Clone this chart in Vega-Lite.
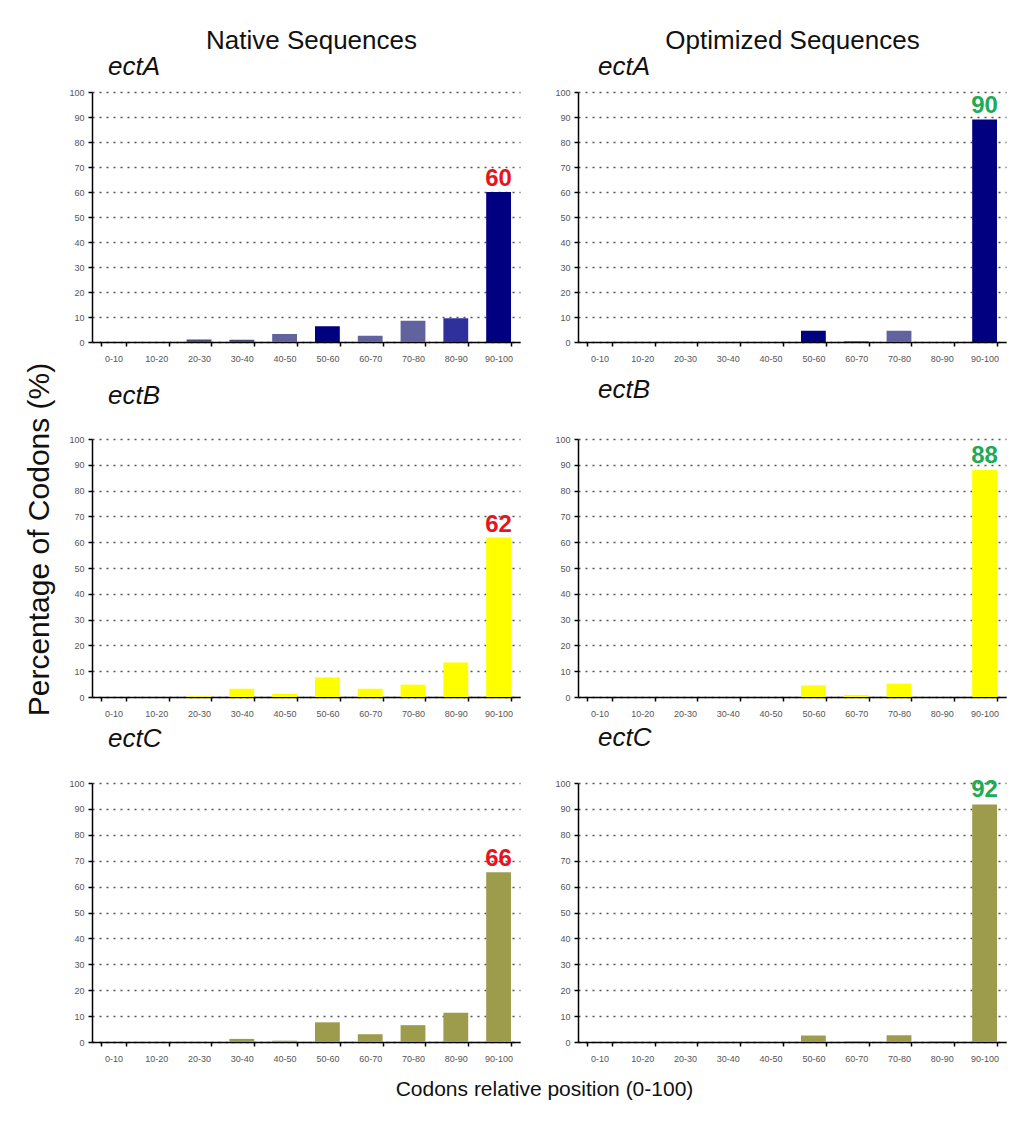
{
  "$schema": "https://vega.github.io/schema/vega-lite/v6.json",
  "background": "white",
  "padding": {"left": 24, "top": 28, "right": 5, "bottom": 5},
  "datasets": {
    "codons": [
      {"gene": "ectA", "set": "Native", "bin": "0-10", "pct": 0, "shade": "grey", "label": null},
      {"gene": "ectA", "set": "Native", "bin": "10-20", "pct": 0, "shade": "grey", "label": null},
      {"gene": "ectA", "set": "Native", "bin": "20-30", "pct": 1, "shade": "grey", "label": null},
      {"gene": "ectA", "set": "Native", "bin": "30-40", "pct": 0.9, "shade": "grey", "label": null},
      {"gene": "ectA", "set": "Native", "bin": "40-50", "pct": 3.2, "shade": "slate", "label": null},
      {"gene": "ectA", "set": "Native", "bin": "50-60", "pct": 6.3, "shade": "navy", "label": null},
      {"gene": "ectA", "set": "Native", "bin": "60-70", "pct": 2.5, "shade": "slate", "label": null},
      {"gene": "ectA", "set": "Native", "bin": "70-80", "pct": 8.5, "shade": "slate", "label": null},
      {"gene": "ectA", "set": "Native", "bin": "80-90", "pct": 9.5, "shade": "blue", "label": null},
      {"gene": "ectA", "set": "Native", "bin": "90-100", "pct": 60, "shade": "navy", "label": "60"},
      {"gene": "ectA", "set": "Optimized", "bin": "0-10", "pct": 0, "shade": "grey", "label": null},
      {"gene": "ectA", "set": "Optimized", "bin": "10-20", "pct": 0, "shade": "grey", "label": null},
      {"gene": "ectA", "set": "Optimized", "bin": "20-30", "pct": 0, "shade": "grey", "label": null},
      {"gene": "ectA", "set": "Optimized", "bin": "30-40", "pct": 0, "shade": "grey", "label": null},
      {"gene": "ectA", "set": "Optimized", "bin": "40-50", "pct": 0, "shade": "grey", "label": null},
      {"gene": "ectA", "set": "Optimized", "bin": "50-60", "pct": 4.5, "shade": "navy", "label": null},
      {"gene": "ectA", "set": "Optimized", "bin": "60-70", "pct": 0.3, "shade": "grey", "label": null},
      {"gene": "ectA", "set": "Optimized", "bin": "70-80", "pct": 4.5, "shade": "slate", "label": null},
      {"gene": "ectA", "set": "Optimized", "bin": "80-90", "pct": 0, "shade": "grey", "label": null},
      {"gene": "ectA", "set": "Optimized", "bin": "90-100", "pct": 89, "shade": "navy", "label": "90"},
      {"gene": "ectB", "set": "Native", "bin": "0-10", "pct": 0, "shade": "yellow", "label": null},
      {"gene": "ectB", "set": "Native", "bin": "10-20", "pct": 0, "shade": "yellow", "label": null},
      {"gene": "ectB", "set": "Native", "bin": "20-30", "pct": 0.3, "shade": "yellow", "label": null},
      {"gene": "ectB", "set": "Native", "bin": "30-40", "pct": 3.2, "shade": "yellow", "label": null},
      {"gene": "ectB", "set": "Native", "bin": "40-50", "pct": 1.3, "shade": "yellow", "label": null},
      {"gene": "ectB", "set": "Native", "bin": "50-60", "pct": 7.6, "shade": "yellow", "label": null},
      {"gene": "ectB", "set": "Native", "bin": "60-70", "pct": 3.2, "shade": "yellow", "label": null},
      {"gene": "ectB", "set": "Native", "bin": "70-80", "pct": 4.8, "shade": "yellow", "label": null},
      {"gene": "ectB", "set": "Native", "bin": "80-90", "pct": 13.4, "shade": "yellow", "label": null},
      {"gene": "ectB", "set": "Native", "bin": "90-100", "pct": 61.8, "shade": "yellow", "label": "62"},
      {"gene": "ectB", "set": "Optimized", "bin": "0-10", "pct": 0, "shade": "yellow", "label": null},
      {"gene": "ectB", "set": "Optimized", "bin": "10-20", "pct": 0, "shade": "yellow", "label": null},
      {"gene": "ectB", "set": "Optimized", "bin": "20-30", "pct": 0, "shade": "yellow", "label": null},
      {"gene": "ectB", "set": "Optimized", "bin": "30-40", "pct": 0, "shade": "yellow", "label": null},
      {"gene": "ectB", "set": "Optimized", "bin": "40-50", "pct": 0, "shade": "yellow", "label": null},
      {"gene": "ectB", "set": "Optimized", "bin": "50-60", "pct": 4.5, "shade": "yellow", "label": null},
      {"gene": "ectB", "set": "Optimized", "bin": "60-70", "pct": 0.8, "shade": "yellow", "label": null},
      {"gene": "ectB", "set": "Optimized", "bin": "70-80", "pct": 5.2, "shade": "yellow", "label": null},
      {"gene": "ectB", "set": "Optimized", "bin": "80-90", "pct": 0, "shade": "yellow", "label": null},
      {"gene": "ectB", "set": "Optimized", "bin": "90-100", "pct": 88, "shade": "yellow", "label": "88"},
      {"gene": "ectC", "set": "Native", "bin": "0-10", "pct": 0, "shade": "olive", "label": null},
      {"gene": "ectC", "set": "Native", "bin": "10-20", "pct": 0, "shade": "olive", "label": null},
      {"gene": "ectC", "set": "Native", "bin": "20-30", "pct": 0, "shade": "olive", "label": null},
      {"gene": "ectC", "set": "Native", "bin": "30-40", "pct": 1.2, "shade": "olive", "label": null},
      {"gene": "ectC", "set": "Native", "bin": "40-50", "pct": 0.5, "shade": "olive", "label": null},
      {"gene": "ectC", "set": "Native", "bin": "50-60", "pct": 7.6, "shade": "olive", "label": null},
      {"gene": "ectC", "set": "Native", "bin": "60-70", "pct": 3, "shade": "olive", "label": null},
      {"gene": "ectC", "set": "Native", "bin": "70-80", "pct": 6.5, "shade": "olive", "label": null},
      {"gene": "ectC", "set": "Native", "bin": "80-90", "pct": 11.3, "shade": "olive", "label": null},
      {"gene": "ectC", "set": "Native", "bin": "90-100", "pct": 65.5, "shade": "olive", "label": "66"},
      {"gene": "ectC", "set": "Optimized", "bin": "0-10", "pct": 0, "shade": "olive", "label": null},
      {"gene": "ectC", "set": "Optimized", "bin": "10-20", "pct": 0, "shade": "olive", "label": null},
      {"gene": "ectC", "set": "Optimized", "bin": "20-30", "pct": 0, "shade": "olive", "label": null},
      {"gene": "ectC", "set": "Optimized", "bin": "30-40", "pct": 0, "shade": "olive", "label": null},
      {"gene": "ectC", "set": "Optimized", "bin": "40-50", "pct": 0, "shade": "olive", "label": null},
      {"gene": "ectC", "set": "Optimized", "bin": "50-60", "pct": 2.5, "shade": "olive", "label": null},
      {"gene": "ectC", "set": "Optimized", "bin": "60-70", "pct": 0.3, "shade": "olive", "label": null},
      {"gene": "ectC", "set": "Optimized", "bin": "70-80", "pct": 2.6, "shade": "olive", "label": null},
      {"gene": "ectC", "set": "Optimized", "bin": "80-90", "pct": 0.3, "shade": "olive", "label": null},
      {"gene": "ectC", "set": "Optimized", "bin": "90-100", "pct": 91.7, "shade": "olive", "label": "92"}
    ]
  },
  "data": {"name": "codons"},
  "title": {"text": "Codons relative position (0-100)", "orient": "bottom", "anchor": "middle", "dx": 29, "offset": 16, "fontSize": 21, "fontWeight": "normal", "font": "Liberation Sans", "color": "#111"},
  "spacing": 34,
  "hconcat": [
    {
      "title": {"text": "Native Sequences", "anchor": "middle", "dx": 39, "fontSize": 26, "fontWeight": "normal", "font": "Liberation Sans", "color": "#111", "offset": 0},
      "spacing": 97,
      "bounds": "flush",
      "vconcat": [
        {
          "width": 428, "height": 250,
          "title": {"text": "ectA", "anchor": "start", "frame": "group", "dx": 16, "offset": 8, "fontSize": 26, "fontStyle": "italic", "fontWeight": "normal", "font": "Liberation Sans", "color": "#111"},
          "transform": [{"filter": "datum.gene == 'ectA' && datum.set == 'Native'"}],
          "encoding": {
            "x": {"field": "bin", "type": "ordinal", "sort": ["0-10","10-20","20-30","30-40","40-50","50-60","60-70","70-80","80-90","90-100"], "scale": {"paddingInner": 0.42, "paddingOuter": 0.21}, "title": null},
            "y": {"field": "pct", "type": "quantitative", "scale": {"domain": [0, 100], "nice": false}, "axis": {"values": [0,10,20,30,40,50,60,70,80,90,100]}, "title": null}
          },
          "layer": [
            {"mark": {"type": "bar"},
             "encoding": {"color": {"field": "shade", "type": "nominal", "scale": {"domain": ["navy","blue","slate","grey","yellow","olive"], "range": ["#000080","#30309c","#62629e","#4a4a70","#ffff00","#9c9c4c"]}, "legend": null}}},
            {"mark": {"type": "text", "color": "#e8141c", "font": "Liberation Sans", "fontSize": 24, "fontWeight": "bold", "baseline": "bottom", "dy": -1},
             "transform": [{"filter": "datum.label != null"}],
             "encoding": {"text": {"field": "label"}}}
          ]
        },
        {
          "spacing": 86,
          "bounds": "flush",
          "vconcat": [
            {
              "width": 428, "height": 258,
              "title": {"text": "ectB", "anchor": "start", "frame": "group", "dx": 16, "offset": -47, "fontSize": 26, "fontStyle": "italic", "fontWeight": "normal", "font": "Liberation Sans", "color": "#111"},
              "transform": [{"filter": "datum.gene == 'ectB' && datum.set == 'Native'"}],
              "encoding": {
                "x": {"field": "bin", "type": "ordinal", "sort": ["0-10","10-20","20-30","30-40","40-50","50-60","60-70","70-80","80-90","90-100"], "scale": {"paddingInner": 0.42, "paddingOuter": 0.21}, "title": null},
                "y": {"field": "pct", "type": "quantitative", "scale": {"domain": [0, 100], "nice": false}, "axis": {"values": [0,10,20,30,40,50,60,70,80,90,100], "titleFont": "Liberation Sans", "titleFontSize": 30, "titlePadding": 14, "titleY": 100}, "title": "Percentage of Codons (%)"}
              },
              "layer": [
                {"mark": {"type": "bar"},
                 "encoding": {"color": {"field": "shade", "type": "nominal", "scale": {"domain": ["navy","blue","slate","grey","yellow","olive"], "range": ["#000080","#30309c","#62629e","#4a4a70","#ffff00","#9c9c4c"]}, "legend": null}}},
                {"mark": {"type": "text", "color": "#e8141c", "font": "Liberation Sans", "fontSize": 24, "fontWeight": "bold", "baseline": "bottom", "dy": -1},
                 "transform": [{"filter": "datum.label != null"}],
                 "encoding": {"text": {"field": "label"}}}
              ]
            },
            {
              "width": 428, "height": 259,
              "title": {"text": "ectC", "anchor": "start", "frame": "group", "dx": 16, "offset": 27, "fontSize": 26, "fontStyle": "italic", "fontWeight": "normal", "font": "Liberation Sans", "color": "#111"},
              "transform": [{"filter": "datum.gene == 'ectC' && datum.set == 'Native'"}],
              "encoding": {
                "x": {"field": "bin", "type": "ordinal", "sort": ["0-10","10-20","20-30","30-40","40-50","50-60","60-70","70-80","80-90","90-100"], "scale": {"paddingInner": 0.42, "paddingOuter": 0.21}, "title": null},
                "y": {"field": "pct", "type": "quantitative", "scale": {"domain": [0, 100], "nice": false}, "axis": {"values": [0,10,20,30,40,50,60,70,80,90,100]}, "title": null}
              },
              "layer": [
                {"mark": {"type": "bar"},
                 "encoding": {"color": {"field": "shade", "type": "nominal", "scale": {"domain": ["navy","blue","slate","grey","yellow","olive"], "range": ["#000080","#30309c","#62629e","#4a4a70","#ffff00","#9c9c4c"]}, "legend": null}}},
                {"mark": {"type": "text", "color": "#e8141c", "font": "Liberation Sans", "fontSize": 24, "fontWeight": "bold", "baseline": "bottom", "dy": -1},
                 "transform": [{"filter": "datum.label != null"}],
                 "encoding": {"text": {"field": "label"}}}
              ]
            }
          ]
        }
      ]
    },
    {
      "title": {"text": "Optimized Sequences", "anchor": "middle", "dx": 12, "fontSize": 26, "fontWeight": "normal", "font": "Liberation Sans", "color": "#111", "offset": 0},
      "spacing": 97,
      "bounds": "flush",
      "vconcat": [
        {
          "width": 428, "height": 250,
          "title": {"text": "ectA", "anchor": "start", "frame": "group", "dx": 20, "offset": 8, "fontSize": 26, "fontStyle": "italic", "fontWeight": "normal", "font": "Liberation Sans", "color": "#111"},
          "transform": [{"filter": "datum.gene == 'ectA' && datum.set == 'Optimized'"}],
          "encoding": {
            "x": {"field": "bin", "type": "ordinal", "sort": ["0-10","10-20","20-30","30-40","40-50","50-60","60-70","70-80","80-90","90-100"], "scale": {"paddingInner": 0.42, "paddingOuter": 0.21}, "title": null},
            "y": {"field": "pct", "type": "quantitative", "scale": {"domain": [0, 100], "nice": false}, "axis": {"values": [0,10,20,30,40,50,60,70,80,90,100]}, "title": null}
          },
          "layer": [
            {"mark": {"type": "bar"},
             "encoding": {"color": {"field": "shade", "type": "nominal", "scale": {"domain": ["navy","blue","slate","grey","yellow","olive"], "range": ["#000080","#30309c","#62629e","#4a4a70","#ffff00","#9c9c4c"]}, "legend": null}}},
            {"mark": {"type": "text", "color": "#1faa55", "font": "Liberation Sans", "fontSize": 24, "fontWeight": "bold", "baseline": "bottom", "dy": -2},
             "transform": [{"filter": "datum.label != null"}],
             "encoding": {"text": {"field": "label"}}}
          ]
        },
        {
          "spacing": 86,
          "bounds": "flush",
          "vconcat": [
            {
              "width": 428, "height": 258,
              "title": {"text": "ectB", "anchor": "start", "frame": "group", "dx": 20, "offset": 32, "fontSize": 26, "fontStyle": "italic", "fontWeight": "normal", "font": "Liberation Sans", "color": "#111"},
              "transform": [{"filter": "datum.gene == 'ectB' && datum.set == 'Optimized'"}],
              "encoding": {
                "x": {"field": "bin", "type": "ordinal", "sort": ["0-10","10-20","20-30","30-40","40-50","50-60","60-70","70-80","80-90","90-100"], "scale": {"paddingInner": 0.42, "paddingOuter": 0.21}, "title": null},
                "y": {"field": "pct", "type": "quantitative", "scale": {"domain": [0, 100], "nice": false}, "axis": {"values": [0,10,20,30,40,50,60,70,80,90,100]}, "title": null}
              },
              "layer": [
                {"mark": {"type": "bar"},
                 "encoding": {"color": {"field": "shade", "type": "nominal", "scale": {"domain": ["navy","blue","slate","grey","yellow","olive"], "range": ["#000080","#30309c","#62629e","#4a4a70","#ffff00","#9c9c4c"]}, "legend": null}}},
                {"mark": {"type": "text", "color": "#1faa55", "font": "Liberation Sans", "fontSize": 24, "fontWeight": "bold", "baseline": "bottom", "dy": -2},
                 "transform": [{"filter": "datum.label != null"}],
                 "encoding": {"text": {"field": "label"}}}
              ]
            },
            {
              "width": 428, "height": 259,
              "title": {"text": "ectC", "anchor": "start", "frame": "group", "dx": 20, "offset": 27, "fontSize": 26, "fontStyle": "italic", "fontWeight": "normal", "font": "Liberation Sans", "color": "#111"},
              "transform": [{"filter": "datum.gene == 'ectC' && datum.set == 'Optimized'"}],
              "encoding": {
                "x": {"field": "bin", "type": "ordinal", "sort": ["0-10","10-20","20-30","30-40","40-50","50-60","60-70","70-80","80-90","90-100"], "scale": {"paddingInner": 0.42, "paddingOuter": 0.21}, "title": null},
                "y": {"field": "pct", "type": "quantitative", "scale": {"domain": [0, 100], "nice": false}, "axis": {"values": [0,10,20,30,40,50,60,70,80,90,100]}, "title": null}
              },
              "layer": [
                {"mark": {"type": "bar"},
                 "encoding": {"color": {"field": "shade", "type": "nominal", "scale": {"domain": ["navy","blue","slate","grey","yellow","olive"], "range": ["#000080","#30309c","#62629e","#4a4a70","#ffff00","#9c9c4c"]}, "legend": null}}},
                {"mark": {"type": "text", "color": "#1faa55", "font": "Liberation Sans", "fontSize": 24, "fontWeight": "bold", "baseline": "bottom", "dy": -2},
                 "transform": [{"filter": "datum.label != null"}],
                 "encoding": {"text": {"field": "label"}}}
              ]
            }
          ]
        }
      ]
    }
  ],
  "config": {
    "view": {"stroke": null},
    "font": "Liberation Sans",
    "axis": {"domainColor": "#000", "domainWidth": 1.5, "tickColor": "#000", "tickWidth": 1.5, "tickSize": 4, "labelColor": "#555", "labelFont": "Liberation Sans", "labelFontSize": 9, "titleColor": "#111", "titleFontWeight": "normal"},
    "axisX": {"grid": false, "labelAngle": 0, "labelPadding": 8, "tickBand": "extent"},
    "axisY": {"grid": true, "gridColor": "#555", "gridDash": [2, 5], "gridWidth": 1.5, "labelPadding": 4}
  }
}
